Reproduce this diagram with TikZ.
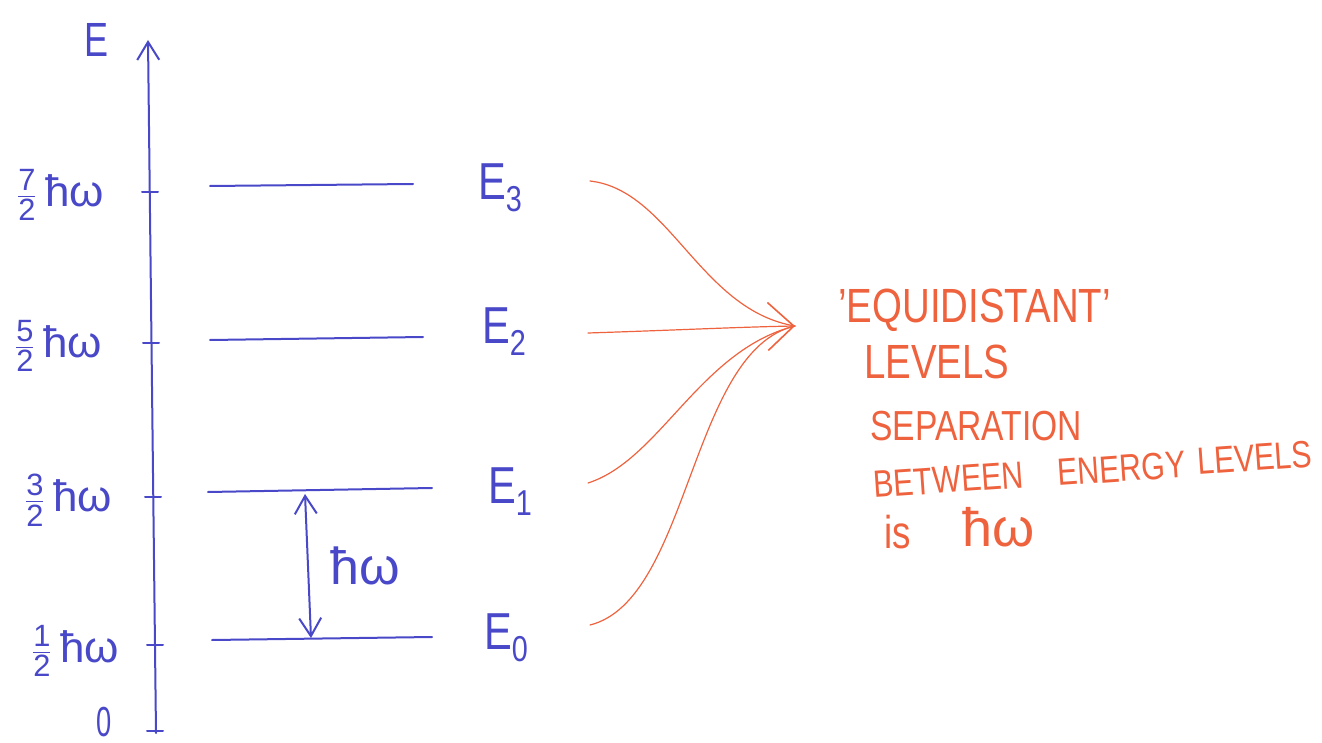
\documentclass[tikz,border=0pt]{standalone}
\usepackage{fontspec}
\usepackage{amsmath}
\usepackage{graphicx}
\setmainfont{Liberation Sans}
\usetikzlibrary{arrows.meta}
\definecolor{pen}{RGB}{72,72,200}
\definecolor{rpen}{RGB}{238,98,62}
\newcommand{\nar}[1]{\scalebox{0.8}[1]{#1}}
\newcommand{\hw}{ħω}
\newcommand{\fr}[2]{$\genfrac{}{}{0.7pt}{1}{\text{#1}}{\text{#2}}$}
\newcommand{\Elev}[1]{\nar{E\raisebox{-6pt}{\fontsize{18}{18}\selectfont #1}}}
\tikzset{
  bb/.tip={Straight Barb[length=9pt,width=11pt]},
  rbb/.tip={Straight Barb[length=13pt,width=24pt,line width=0.8pt]}}
\begin{document}
\begin{tikzpicture}[x=0.5pt,y=-0.5pt,
  blueline/.style={draw=pen,line width=1pt,line cap=round},
  redline/.style={draw=rpen,line width=0.6pt,line cap=round},
  axlab/.style={text=pen,font=\fontsize{24}{24}\selectfont,inner sep=0pt},
  frlab/.style={text=pen,font=\fontsize{22}{22}\selectfont,inner sep=0pt},
  elab/.style={text=pen,font=\fontsize{26}{26}\selectfont,inner sep=0pt},
  rtext/.style={text=rpen,inner sep=0pt,anchor=base west},
  rslant/.style={rtext,font=\fontsize{19}{19}\selectfont,rotate=4}]
\useasboundingbox (0,0) rectangle (1322,743);
% axis
\coordinate (axbot) at (156,733);
\coordinate (axtop) at (148,40);
\draw[blueline,-{bb}] (axbot) -- (axtop);
\node[axlab] (Elab) at (97,40) {\scalebox{0.75}[1]{E}};
\node[axlab,font=\fontsize{21}{21}\selectfont] (zero) at (104,722) {\scalebox{0.65}[1]{0}};
% ticks
\draw[blueline] (147,731) -- (163,731);
\draw[blueline] (142,192) -- (158,192);
\draw[blueline] (143,343) -- (159,343);
\draw[blueline] (145,497) -- (161,497);
\draw[blueline] (147,645) -- (163,645);
% tick labels
\node[frlab] (l3) at (60,195) {\fr{7}{2}\,\hw};
\node[frlab] (l2) at (58,346) {\fr{5}{2}\,\hw};
\node[frlab] (l1) at (68,500) {\fr{3}{2}\,\hw};
\node[frlab] (l0) at (75,651) {\fr{1}{2}\,\hw};
% levels
\draw[blueline] (210,186) -- (413,184);
\draw[blueline] (210,340) -- (423,337);
\draw[blueline] (208,492) -- (432,488);
\draw[blueline] (212,640) -- (432,637);
% level labels
\node[elab] (E3) at (500,188) {\Elev{3}};
\node[elab] (E2) at (504,332) {\Elev{2}};
\node[elab] (E1) at (510,492) {\Elev{1}};
\node[elab] (E0) at (506,638) {\Elev{0}};
% spacing arrow
\coordinate (dtop) at (305,494);
\coordinate (dbot) at (311,638);
\draw[blueline,{bb}-{bb}] (dtop) -- (dbot);
\node[axlab,font=\fontsize{26}{26}\selectfont] (hwlab) at (365,566) {\hw};
% red connectors
\coordinate (tip) at (795,326);
\coordinate (s3) at (590,181);
\coordinate (s2) at (588,333);
\coordinate (s1) at (588,483);
\coordinate (s0) at (590,625);
\draw[redline] (s3) .. controls (670,190) and (700,310) .. (tip);
\draw[redline,-{rbb}] (s2) .. controls (680,330) and (740,327) .. (tip);
\draw[redline] (s1) .. controls (660,460) and (700,350) .. (tip);
\draw[redline] (s0) .. controls (690,600) and (690,350) .. (tip);
% red text
\node[rtext,font=\fontsize{24}{24}\selectfont] (t1) at (838,322) {\nar{'EQUIDISTANT'}};
\node[rtext,font=\fontsize{24}{24}\selectfont] (t2) at (864,378) {\nar{LEVELS}};
\node[rtext,font=\fontsize{21}{21}\selectfont] (t3) at (870,440) {\nar{SEPARATION}};
\node[rslant] (t4a) at (874,498) {\nar{BETWEEN}};
\node[rslant] (t4b) at (1058,486) {\nar{ENERGY}};
\node[rslant] (t4c) at (1198,475) {\nar{LEVELS}};
\node[rtext,font=\fontsize{23}{23}\selectfont] (t5a) at (884,548) {\nar{is}};
\node[rtext,font=\fontsize{27}{27}\selectfont] (t5b) at (962,546) {\hw};
\end{tikzpicture}
\end{document}
